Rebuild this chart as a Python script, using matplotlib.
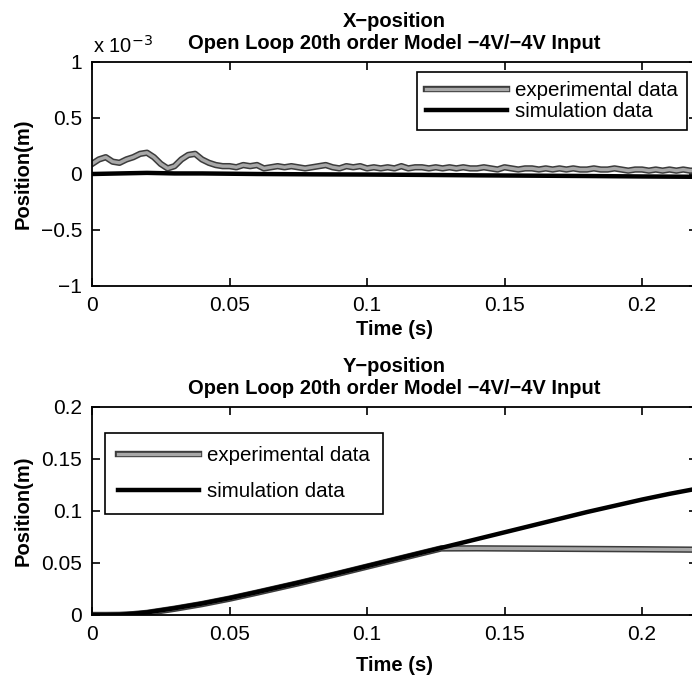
import numpy as np
import matplotlib
matplotlib.use("Agg")
import matplotlib.pyplot as plt
import matplotlib.patheffects as pe

plt.rcParams["font.family"] = ["Liberation Sans", "DejaVu Sans"]

# X-position, values in units of 1e-3 m
x_exp_time = np.arange(0, 0.2201, 0.0025)
x_exp_pos = [
    0.09, 0.13, 0.15, 0.11, 0.10, 0.13, 0.15, 0.18, 0.19, 0.15,
    0.09, 0.05, 0.07, 0.13, 0.17, 0.18, 0.13, 0.10, 0.08, 0.07,
    0.07, 0.06, 0.08, 0.07, 0.08, 0.05, 0.06, 0.07, 0.06, 0.07,
    0.06, 0.05, 0.06, 0.07, 0.08, 0.06, 0.05, 0.07, 0.06, 0.07,
    0.05, 0.06, 0.05, 0.06, 0.05, 0.07, 0.05, 0.06, 0.06, 0.05,
    0.06, 0.05, 0.06, 0.05, 0.06, 0.05, 0.05, 0.06, 0.05, 0.04,
    0.06, 0.05, 0.04, 0.05, 0.05, 0.04, 0.05, 0.04, 0.05, 0.04,
    0.05, 0.04, 0.04, 0.05, 0.04, 0.04, 0.05, 0.04, 0.03, 0.04,
    0.04, 0.03, 0.04, 0.03, 0.04, 0.03, 0.04, 0.03, 0.03,
]
x_sim_time = [0, 0.01, 0.02, 0.03, 0.04, 0.06, 0.08, 0.10, 0.12, 0.14, 0.16, 0.18, 0.20, 0.22]
x_sim_pos = [0, 0.005, 0.01, 0.005, 0.005, 0.0, -0.003, -0.005, -0.008, -0.012, -0.015, -0.018, -0.022, -0.025]

# Y-position, metres
y_sim_time = [0, 0.005, 0.01, 0.015, 0.02, 0.025, 0.03, 0.04, 0.05, 0.06, 0.075, 0.09, 0.10,
              0.11, 0.12, 0.13, 0.14, 0.15, 0.16, 0.17, 0.18, 0.19, 0.20, 0.21, 0.22]
y_sim_pos = [0, 0, 0.0003, 0.0012, 0.0025, 0.0045, 0.0065, 0.011, 0.0162, 0.022, 0.031, 0.0405, 0.047,
             0.0535, 0.060, 0.0665, 0.073, 0.0795, 0.086, 0.0925, 0.099, 0.105, 0.111, 0.1165, 0.1215]
y_exp_time = [0, 0.005, 0.01, 0.015, 0.02, 0.025, 0.03, 0.04, 0.05, 0.06, 0.075, 0.09, 0.10,
              0.11, 0.12, 0.127, 0.14, 0.16, 0.18, 0.20, 0.22]
y_exp_pos = [0, 0, 0.0001, 0.0008, 0.002, 0.004, 0.006, 0.0105, 0.0157, 0.0215, 0.0305, 0.040, 0.0465,
             0.053, 0.0595, 0.0640, 0.0641, 0.0638, 0.0635, 0.0632, 0.0628]

x_ticks = [0, 0.05, 0.1, 0.15, 0.2]
x_tick_labels = ["0", "0.05", "0.1", "0.15", "0.2"]
top_y_ticks = [-1, -0.5, 0, 0.5, 1]
top_y_labels = ["\u22121", "\u22120.5", "0", "0.5", "1"]
bottom_y_ticks = [0, 0.05, 0.1, 0.15, 0.2]
bottom_y_labels = ["0", "0.05", "0.1", "0.15", "0.2"]

W, H = 692, 680
fig = plt.figure(figsize=(W / 100, H / 100), dpi=100)
fig.patch.set_facecolor("white")

ax_left = 92 / W
ax_width = (697 - 92) / W
ax1 = fig.add_axes([ax_left, (H - 286) / H, ax_width, 224 / H])
ax2 = fig.add_axes([ax_left, (H - 615) / H, ax_width, 208 / H])

exp_style = dict(color="#a8a8a8", lw=2.4,
                 path_effects=[pe.Stroke(linewidth=4.6, foreground="#3c3c3c"), pe.Normal()])
sim_style = dict(color="black", lw=3.2)


def style_axes(ax, yticks, ylabels, ylim, xpad):
    ax.set_xlim(0, 0.22)
    ax.set_ylim(*ylim)
    ax.set_xticks(x_ticks)
    ax.set_xticklabels(x_tick_labels)
    ax.set_yticks(yticks)
    ax.set_yticklabels(ylabels)
    ax.tick_params(direction="in", length=6, width=1.2, top=True, right=True,
                   labelsize=15, pad=7)
    for s in ax.spines.values():
        s.set_linewidth(1.3)
    ax.set_xlabel("Time (s)", fontsize=14.5, fontweight="bold", labelpad=xpad)
    ax.set_ylabel("Position(m)", fontsize=14.5, fontweight="bold", labelpad=6)


def add_legend(ax, loc, anchor, spacing, bpad):
    leg = ax.legend(loc=loc, bbox_to_anchor=anchor, borderaxespad=0, fontsize=14.8,
                    handlelength=3.9, labelspacing=spacing, borderpad=bpad,
                    handletextpad=0.4, fancybox=False, edgecolor="black", framealpha=1)
    leg.get_frame().set_linewidth(1.2)


ax1.plot(x_exp_time, x_exp_pos, label="experimental data", **exp_style)
ax1.plot(x_sim_time, x_sim_pos, label="simulation data", **sim_style)
style_axes(ax1, top_y_ticks, top_y_labels, (-1, 1), 4)
ax1.set_title("X\u2212position\nOpen Loop 20th order Model \u22124V/\u22124V Input",
              fontsize=14.5, fontweight="bold", linespacing=1.22, pad=9)
ax1.text(0.002, 1.025, "x 10$^{-3}$", transform=ax1.transAxes, fontsize=14.5,
         ha="left", va="bottom")
add_legend(ax1, "upper right", ((687 - 92) / 605, 1 - 10 / 224), 0.08, 0.45)

ax2.plot(y_exp_time, y_exp_pos, label="experimental data", **exp_style)
ax2.plot(y_sim_time, y_sim_pos, label="simulation data", **sim_style)
style_axes(ax2, bottom_y_ticks, bottom_y_labels, (0, 0.2), 9)
ax2.set_title("Y\u2212position\nOpen Loop 20th order Model \u22124V/\u22124V Input",
              fontsize=14.5, fontweight="bold", linespacing=1.22, pad=9)
add_legend(ax2, "upper left", (13 / 605, 1 - 26 / 208), 0.8, 0.65)

fig.savefig("out.png", dpi=100)
